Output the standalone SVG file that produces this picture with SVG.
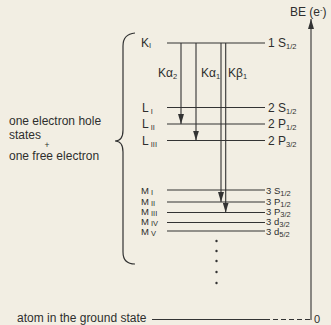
<svg xmlns="http://www.w3.org/2000/svg" width="331" height="325" viewBox="0 0 331 325">
<defs>
<marker id="ah" viewBox="0 0 10 6" refX="10" refY="3" markerWidth="10" markerHeight="6" markerUnits="userSpaceOnUse" orient="auto">
<path d="M0,0 L10,3 L0,6 Z" fill="#333"/>
</marker>
</defs>
<style>
text{font-family:"Liberation Sans","DejaVu Sans",sans-serif;fill:#2e2e2e;font-size:12px}
.ml{font-size:9.5px}
.sub{font-size:7.5px}
.lv{stroke:#333;stroke-width:1.2;fill:none}
.ar{stroke:#333;stroke-width:1.1;fill:none}
</style>
<rect width="331" height="325" fill="#f2eee3"/>
<g id="brace"><path d="M135,33 Q123,34 123,46 L123,130 Q123,141 115,141 Q123,141 123,152 L123,252 Q123,264 135,264" class="lv"/></g>
<g id="left-label">
<text x="9" y="124.5">one electron hole</text>
<text x="9" y="138.5">states</text>
<text x="44.5" y="147.5" style="font-size:8.5px">+</text>
<text x="9" y="160">one free electron</text>
</g>
<g id="K"><line class="lv" x1="167" y1="43" x2="265" y2="43"/><text x="141" y="47">K<tspan class="sub" dy="1">I</tspan></text><text x="268" y="47">1  S<tspan class="sub" dy="2">1/2</tspan></text></g>
<g id="LI"><line class="lv" x1="167" y1="107.5" x2="265" y2="107.5"/><text x="142" y="112">L<tspan class="sub" dy="2"> I</tspan></text><text x="268" y="112">2  S<tspan class="sub" dy="2">1/2</tspan></text></g>
<g id="LII"><line class="lv" x1="167" y1="124" x2="265" y2="124"/><text x="142" y="128">L<tspan class="sub" dy="2"> II</tspan></text><text x="268" y="128">2  P<tspan class="sub" dy="2">1/2</tspan></text></g>
<g id="LIII"><line class="lv" x1="167" y1="140.5" x2="265" y2="140.5"/><text x="142" y="145">L<tspan class="sub" dy="2"> III</tspan></text><text x="268" y="145">2  P<tspan class="sub" dy="2">3/2</tspan></text></g>
<g id="MI"><line class="lv" x1="167" y1="190" x2="265" y2="190"/><text class="ml" x="141" y="194">M<tspan class="sub" dy="1"> I</tspan></text><text class="ml" x="266" y="194">3  S<tspan class="sub" dy="2">1/2</tspan></text></g>
<g id="MII"><line class="lv" x1="167" y1="202" x2="265" y2="202"/><text class="ml" x="141" y="205">M<tspan class="sub" dy="1"> II</tspan></text><text class="ml" x="266" y="205">3  P<tspan class="sub" dy="2">1/2</tspan></text></g>
<g id="MIII"><line class="lv" x1="167" y1="212.5" x2="265" y2="212.5"/><text class="ml" x="141" y="215">M<tspan class="sub" dy="1"> III</tspan></text><text class="ml" x="266" y="215">3  P<tspan class="sub" dy="2">3/2</tspan></text></g>
<g id="MIV"><line class="lv" x1="167" y1="222.5" x2="265" y2="222.5"/><text class="ml" x="141" y="225">M<tspan class="sub" dy="1"> IV</tspan></text><text class="ml" x="266" y="225">3  d<tspan class="sub" dy="2">3/2</tspan></text></g>
<g id="MV"><line class="lv" x1="167" y1="231" x2="265" y2="231"/><text class="ml" x="141" y="235">M<tspan class="sub" dy="1"> V</tspan></text><text class="ml" x="266" y="235">3  d<tspan class="sub" dy="2">5/2</tspan></text></g>
<g id="dots" fill="#333">
<circle cx="216.5" cy="241" r="1.2"/><circle cx="216.5" cy="251" r="1.2"/><circle cx="216.5" cy="261" r="1.2"/><circle cx="216.5" cy="272" r="1.2"/><circle cx="216.5" cy="283" r="1.2"/>
</g>
<g id="ground"><text x="17" y="322">atom in the ground state</text><text x="314" y="323" style="font-size:11px">0</text></g>
<g id="axis"><text x="290" y="16">BE (e<tspan class="sub" dy="-4">-</tspan><tspan dy="4">)</tspan></text></g>
<g id="connectors">
<line class="ar" x1="181" y1="43" x2="181" y2="124" marker-end="url(#ah)"/>
<line class="ar" x1="196" y1="43" x2="196" y2="140.5" marker-end="url(#ah)"/>
<line class="ar" x1="221" y1="43" x2="221" y2="202" marker-end="url(#ah)"/>
<line class="ar" x1="225.7" y1="43" x2="225.7" y2="212.5" marker-end="url(#ah)"/>
<line class="ar" x1="311" y1="320" x2="311" y2="19" marker-end="url(#ah)"/>
<line class="lv" x1="152" y1="319.5" x2="265" y2="319.5"/>
<line class="lv" x1="265" y1="319.5" x2="311" y2="319.5" stroke-dasharray="5,3"/>
<text x="158" y="77">Kα<tspan class="sub" dy="2">2</tspan></text>
<text x="201" y="77">Kα<tspan class="sub" dy="2">1</tspan></text>
<text x="228" y="77">Kβ<tspan class="sub" dy="2">1</tspan></text>
</g>
</svg>
